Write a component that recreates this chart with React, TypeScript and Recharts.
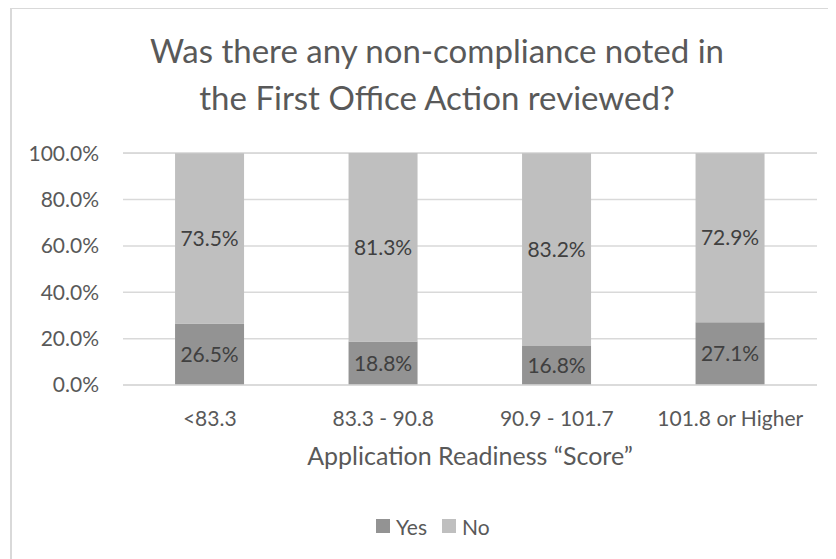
import { Bar, BarChart, CartesianGrid, LabelList, Legend, XAxis, YAxis } from "recharts";

const categories = ["<83.3", "83.3 - 90.8", "90.9 - 101.7", "101.8 or Higher"];
const yesValues = [26.5, 18.8, 16.8, 27.1];
const noValues = [73.5, 81.3, 83.2, 72.9];
const yTicks = [0, 20, 40, 60, 80, 100];
const titleLines = ["Was there any non-compliance noted in", "the First Office Action reviewed?"];
const axisTitle = "Application Readiness “Score”";

const data = categories.map((name, i) => ({ name, yes: yesValues[i], no: noValues[i] }));

const FONT = "Lato, 'Open Sans', sans-serif";
const YES_COLOR = "#939393";
const NO_COLOR = "#bfbfbf";
const TEXT = "#595959";

function pct(v: unknown) {
  return `${Number(v).toFixed(1)}%`;
}

function XTick(props: any) {
  const { x, y, payload } = props;
  return (
    <text x={x} y={y + 32} textAnchor="middle" dominantBaseline="central" fill={TEXT} fontSize={21} fontFamily={FONT}>
      {payload.value}
    </text>
  );
}

function AxisTitle(props: any) {
  const vb = props.viewBox;
  return (
    <text
      x={vb.x + vb.width / 2}
      y={vb.y + 70}
      textAnchor="middle"
      dominantBaseline="central"
      fill={TEXT}
      fontSize={25}
      fontFamily={FONT}
    >
      {axisTitle}
    </text>
  );
}

function LegendContent() {
  const items = [
    { label: "Yes", color: YES_COLOR },
    { label: "No", color: NO_COLOR },
  ];
  return (
    <div style={{ display: "flex", paddingLeft: 368, height: 24, alignItems: "center" }}>
      {items.map((it) => (
        <div key={it.label} style={{ display: "flex", alignItems: "center", marginRight: 15 }}>
          <span style={{ width: 14, height: 14, background: it.color, display: "inline-block", marginRight: 6 }} />
          <span style={{ color: TEXT, fontSize: 21, fontFamily: FONT }}>{it.label}</span>
        </div>
      ))}
    </div>
  );
}

export default function App() {
  return (
    <div style={{ position: "relative", width: 828, height: 551, overflow: "hidden", background: "#fff", fontFamily: FONT }}>
      {/* chart frame, cropped at right and bottom like the source */}
      <div
        style={{
          position: "absolute",
          left: 2,
          top: 0,
          width: 900,
          height: 600,
          borderLeft: "2px solid #d9d9d9",
          borderTop: "1px solid #d9d9d9",
        }}
      />
      <div
        style={{
          position: "absolute",
          top: 19,
          left: 429 - 400,
          width: 800,
          textAlign: "center",
          color: TEXT,
          fontSize: 33,
          lineHeight: "47px",
          whiteSpace: "nowrap",
        }}
      >
        {titleLines.map((t) => (
          <div key={t}>{t}</div>
        ))}
      </div>
      <div style={{ position: "absolute", left: 0, top: 0 }}>
        <BarChart
          width={828}
          height={551}
          data={data}
          margin={{ top: 145, right: 19, left: 0, bottom: 21 }}
          barCategoryGap="30%"
        >
          <CartesianGrid vertical={false} stroke="#d9d9d9" strokeWidth={1.5} />
          <XAxis
            dataKey="name"
            axisLine={{ stroke: "#d9d9d9", strokeWidth: 1.5 }}
            tickLine={false}
            tickSize={0}
            tickMargin={0}
            height={129}
            tick={<XTick />}
            interval={0}
            label={<AxisTitle />}
          />
          <YAxis
            domain={[0, 100]}
            ticks={yTicks}
            tickFormatter={pct}
            axisLine={false}
            tickLine={false}
            tickSize={0}
            tickMargin={24}
            width={115}
            tick={{ fill: TEXT, fontSize: 21, fontFamily: FONT }}
          />
          <Legend verticalAlign="bottom" height={24} content={<LegendContent />} />
          <Bar dataKey="yes" name="Yes" stackId="a" fill={YES_COLOR} isAnimationActive={false}>
            <LabelList dataKey="yes" position="center" formatter={pct} fill="#404040" fontSize={21} fontFamily={FONT} />
          </Bar>
          <Bar dataKey="no" name="No" stackId="a" fill={NO_COLOR} isAnimationActive={false}>
            <LabelList dataKey="no" position="center" formatter={pct} fill="#404040" fontSize={21} fontFamily={FONT} />
          </Bar>
        </BarChart>
      </div>
    </div>
  );
}
